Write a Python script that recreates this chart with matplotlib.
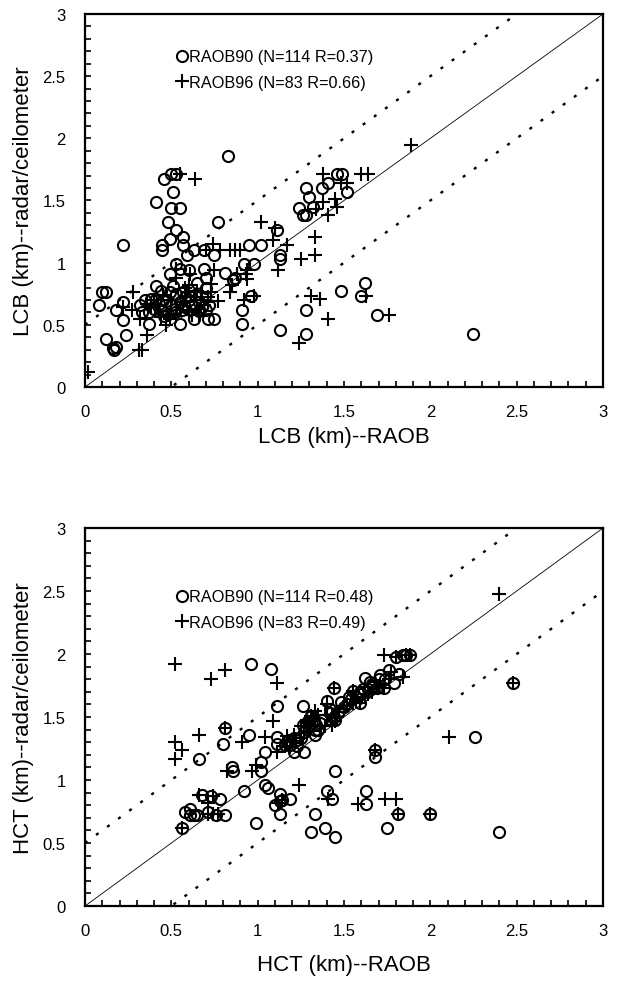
import numpy as np
import matplotlib
matplotlib.use('Agg')
import matplotlib.pyplot as plt
from matplotlib.ticker import MultipleLocator, FormatStrFormatter

plt.rcParams['font.family'] = ['Liberation Sans', 'DejaVu Sans']

#-----------------------------------------------------------------------------
# LCB panel data (km)

lcb90_x = [0.83, 0.50, 0.53, 0.46, 0.51, 0.41, 0.50, 0.55, 0.77, 0.48, 0.53, 0.49,
           0.57, 0.22, 0.445, 0.445, 0.57, 0.63, 0.59, 0.69, 0.75, 0.95, 1.02, 1.11,
           1.13, 1.13, 0.92, 0.98, 0.53, 0.55, 0.49, 0.60, 0.69, 0.70, 0.81, 0.87,
           0.65, 0.41, 0.51, 0.10, 0.12, 0.22, 0.08, 0.18, 0.32, 0.37, 0.41, 0.43,
           0.47, 0.49, 0.53, 0.57, 0.58, 0.22, 0.37, 0.55, 0.63, 0.71, 0.75, 0.48,
           0.24, 0.12, 0.16, 0.18, 0.17, 0.91, 0.91, 0.96, 1.13, 1.28, 1.28, 1.62,
           1.60, 1.48, 1.69, 2.25, 1.46, 1.49, 1.41, 1.37, 1.28, 1.30, 1.24, 1.26,
           1.28, 1.52, 1.32, 0.40, 0.44, 0.45, 0.50, 0.52, 0.55, 0.58, 0.60, 0.62,
           0.64, 0.66, 0.68, 0.70, 0.46, 0.52, 0.33, 0.86, 0.70, 0.56, 0.61, 0.38,
           0.66, 0.72, 0.44, 0.35]
lcb90_y = [1.86, 1.71, 1.71, 1.67, 1.57, 1.49, 1.44, 1.44, 1.33, 1.33, 1.26, 1.19,
           1.21, 1.14, 1.14, 1.10, 1.14, 1.10, 1.06, 1.10, 1.06, 1.14, 1.14, 1.26,
           1.06, 1.03, 0.99, 0.99, 0.99, 0.95, 0.91, 0.94, 0.95, 0.88, 0.92, 0.88,
           0.84, 0.81, 0.81, 0.76, 0.76, 0.68, 0.66, 0.62, 0.66, 0.60, 0.71, 0.67,
           0.69, 0.76, 0.75, 0.76, 0.72, 0.54, 0.51, 0.51, 0.55, 0.55, 0.55, 0.59,
           0.42, 0.39, 0.31, 0.32, 0.30, 0.62, 0.51, 0.73, 0.46, 0.62, 0.43, 0.84,
           0.73, 0.77, 0.58, 0.43, 1.71, 1.71, 1.64, 1.60, 1.60, 1.53, 1.44, 1.38,
           1.38, 1.57, 1.45, 0.63, 0.62, 0.70, 0.66, 0.63, 0.68, 0.64, 0.70, 0.66,
           0.74, 0.68, 0.64, 0.62, 0.57, 0.60, 0.60, 0.86, 0.80, 0.62, 0.73, 0.71,
           0.61, 0.66, 0.77, 0.70]

lcb96_x = [1.89, 0.55, 0.64, 1.38, 1.60, 1.64, 1.48, 1.52, 1.45, 1.46, 1.38, 1.34,
           1.41, 1.02, 1.09, 1.17, 1.33, 1.33, 1.25, 1.12, 0.74, 0.70, 0.78, 0.84,
           0.87, 0.90, 0.94, 0.94, 0.93, 0.88, 0.73, 0.73, 0.75, 0.61, 0.53, 0.84,
           0.85, 0.77, 0.71, 0.71, 0.92, 0.98, 0.28, 0.27, 0.32, 0.36, 0.31, 0.33,
           0.02, 1.31, 1.36, 1.41, 1.24, 1.63, 1.76, 0.47, 0.48, 0.49, 0.42, 0.50,
           0.55, 0.57, 0.60, 0.63, 0.65, 0.67, 0.38, 0.44, 0.53, 0.59, 0.62, 0.66,
           0.68, 0.40, 0.22, 0.53, 0.58, 0.45, 0.69, 0.36, 1.10, 0.60, 0.65]
lcb96_y = [1.95, 1.71, 1.67, 1.71, 1.71, 1.71, 1.64, 1.64, 1.51, 1.45, 1.49, 1.43,
           1.38, 1.33, 1.18, 1.14, 1.21, 1.06, 1.03, 0.94, 1.15, 1.10, 1.10, 1.10,
           1.10, 1.10, 0.94, 0.87, 0.91, 0.91, 0.83, 0.76, 0.94, 0.91, 0.95, 0.76,
           0.82, 0.69, 0.72, 0.68, 0.70, 0.73, 0.76, 0.62, 0.55, 0.42, 0.30, 0.30,
           0.12, 0.73, 0.71, 0.55, 0.35, 0.73, 0.58, 0.50, 0.58, 0.55, 0.65, 0.70,
           0.62, 0.68, 0.60, 0.72, 0.63, 0.70, 0.64, 0.56, 0.57, 0.76, 0.58, 0.58,
           0.76, 0.70, 0.64, 0.88, 0.80, 0.74, 0.66, 0.67, 1.28, 0.82, 0.77]

# HCT panel data (km)

hct90_x = [0.96, 1.08, 1.11, 1.26, 1.40, 1.79, 1.62, 1.67, 0.95, 0.80, 0.66, 1.11,
           1.11, 1.04, 1.02, 1.21, 1.27, 1.23, 1.33, 1.34, 1.29, 1.31, 0.85, 0.86,
           1.02, 1.45, 1.68, 2.26, 0.92, 1.04, 1.06, 1.13, 1.13, 1.19, 1.13, 1.40,
           1.43, 1.63, 1.63, 1.33, 0.99, 1.31, 1.39, 1.45, 1.75, 2.40, 0.68, 0.78,
           0.61, 0.63, 0.61, 0.65, 0.76, 0.81, 0.81, 0.56, 2.48, 1.81, 2.00, 1.68,
           1.44, 1.55, 1.31, 1.69, 1.73, 1.80, 1.84, 1.86, 1.88, 1.14, 1.59, 1.44,
           1.47, 1.52, 1.57, 1.60, 1.64, 1.70, 1.35, 1.25, 1.19, 1.21, 1.17, 1.37,
           1.42, 1.45, 1.54, 1.59, 1.65, 1.71, 1.76, 1.27, 1.30, 1.23, 1.16, 0.73,
           0.71, 1.10, 1.36, 1.42, 1.48, 1.66, 1.74, 1.82, 1.53, 1.61, 1.50, 1.26,
           1.33, 0.58]
hct90_y = [1.92, 1.88, 1.59, 1.59, 1.63, 1.77, 1.81, 1.75, 1.36, 1.29, 1.17, 1.34,
           1.29, 1.22, 1.14, 1.22, 1.22, 1.27, 1.36, 1.44, 1.47, 1.51, 1.10, 1.07,
           1.07, 1.07, 1.18, 1.34, 0.91, 0.96, 0.94, 0.89, 0.83, 0.85, 0.73, 0.91,
           0.85, 0.91, 0.81, 0.73, 0.66, 0.59, 0.62, 0.55, 0.62, 0.59, 0.88, 0.85,
           0.77, 0.72, 0.72, 0.72, 0.72, 0.72, 1.41, 0.62, 1.77, 0.73, 0.73, 1.24,
           1.73, 1.71, 1.51, 1.73, 1.73, 1.98, 1.99, 1.99, 1.99, 0.84, 1.61, 1.50,
           1.55, 1.60, 1.66, 1.68, 1.72, 1.80, 1.40, 1.33, 1.28, 1.33, 1.30, 1.48,
           1.53, 1.48, 1.64, 1.70, 1.78, 1.83, 1.87, 1.38, 1.42, 1.32, 1.28, 0.87,
           0.75, 0.80, 1.45, 1.56, 1.62, 1.76, 1.80, 1.84, 1.66, 1.72, 1.58, 1.44,
           1.40, 0.75]

hct96_x = [2.40, 0.52, 0.73, 0.81, 1.11, 1.73, 1.09, 0.66, 0.52, 0.56, 0.52, 0.91,
           1.04, 0.99, 0.97, 0.82, 2.11, 0.66, 0.74, 0.71, 0.71, 0.74, 0.77, 1.41,
           1.58, 1.74, 1.80, 1.24, 1.12, 1.14, 1.40, 1.52, 1.43, 1.43, 1.11, 1.17,
           1.17, 1.25, 0.81, 0.56, 2.48, 1.81, 2.00, 1.68, 1.44, 1.55, 1.31, 1.69,
           1.73, 1.80, 1.86, 1.88, 1.59, 1.28, 1.32, 1.35, 1.21, 1.46, 1.62, 1.66,
           1.70, 1.22, 1.27, 1.36, 1.50, 1.64, 1.19, 1.29, 1.47, 1.57, 1.76, 1.84,
           1.30, 1.40, 1.55, 1.62, 1.33, 1.45, 1.68, 1.77, 1.39, 1.25, 1.16]
hct96_y = [2.48, 1.92, 1.80, 1.87, 1.77, 1.99, 1.47, 1.36, 1.30, 1.24, 1.17, 1.30,
           1.34, 1.12, 1.07, 1.07, 1.34, 0.88, 0.87, 0.82, 0.73, 0.73, 0.73, 0.85,
           0.81, 0.85, 0.85, 0.96, 0.82, 0.84, 1.60, 1.59, 1.51, 1.44, 1.22, 1.30,
           1.35, 1.43, 1.41, 0.62, 1.77, 0.73, 0.73, 1.24, 1.73, 1.71, 1.51, 1.73,
           1.73, 1.98, 1.99, 1.99, 1.61, 1.46, 1.49, 1.52, 1.36, 1.50, 1.66, 1.70,
           1.75, 1.30, 1.37, 1.43, 1.56, 1.68, 1.26, 1.39, 1.54, 1.63, 1.80, 1.82,
           1.45, 1.52, 1.61, 1.74, 1.55, 1.47, 1.78, 1.86, 1.43, 1.33, 1.27]

panels = [
    (lcb90_x, lcb90_y, lcb96_x, lcb96_y, 'LCB', '(N=114 R=0.37)', '(N=83 R=0.66)'),
    (hct90_x, hct90_y, hct96_x, hct96_y, 'HCT', '(N=114 R=0.48)', '(N=83 R=0.49)'),
]

#-----------------------------------------------------------------------------

fig = plt.figure(figsize=(6.23, 9.87), dpi=100)
rects = [[0.1364, 0.6069, 0.8315, 0.3779], [0.1364, 0.0810, 0.8315, 0.3830]]
leg_anchor = [(0.178, 0.905), (0.178, 0.838)]
xpads = [5, 12]

for rect, anchor, xpad, (x90, y90, x96, y96, name, lab90, lab96) in zip(rects, leg_anchor, xpads, panels):
    ax = fig.add_axes(rect)
    line = np.array([0, 3])
    ax.plot(line, line, color='black', lw=0.6)
    ax.plot(line, line + 0.5, color='black', lw=1.7, ls=(0, (1.3, 4.5)))
    ax.plot(line, line - 0.5, color='black', lw=1.7, ls=(0, (1.3, 4.5)))

    h90, = ax.plot(x90, y90, 'o', ms=8, mfc='none', mec='black', mew=1.5,
                   label='RAOB90 ' + lab90)
    h96, = ax.plot(x96, y96, '+', ms=10, mec='black', mew=1.5,
                   label='RAOB96 ' + lab96)

    ax.set_xlim(0, 3)
    ax.set_ylim(0, 3)
    ax.xaxis.set_major_locator(MultipleLocator(0.5))
    ax.yaxis.set_major_locator(MultipleLocator(0.5))
    ax.xaxis.set_minor_locator(MultipleLocator(0.1))
    ax.yaxis.set_minor_locator(MultipleLocator(0.1))
    fmt = FormatStrFormatter('%g')
    ax.xaxis.set_major_formatter(fmt)
    ax.yaxis.set_major_formatter(fmt)
    ax.tick_params(which='both', direction='in', length=4, width=1.2, labelsize=12)
    ax.tick_params(axis='x', pad=12)
    ax.tick_params(axis='y', pad=14)
    for s in ax.spines.values():
        s.set_linewidth(1.6)

    ax.set_xlabel(name + ' (km)--RAOB', fontsize=16, labelpad=xpad)
    ax.set_ylabel(name + ' (km)--radar/ceilometer', fontsize=16, labelpad=6)

    leg = ax.legend(handles=[h90, h96], loc='upper left', bbox_to_anchor=anchor,
                    frameon=False, fontsize=11.7, handlelength=0.6, handletextpad=0.15,
                    labelspacing=0.65, borderaxespad=0, borderpad=0, markerscale=1.0)

fig.savefig('out.png', dpi=100)
